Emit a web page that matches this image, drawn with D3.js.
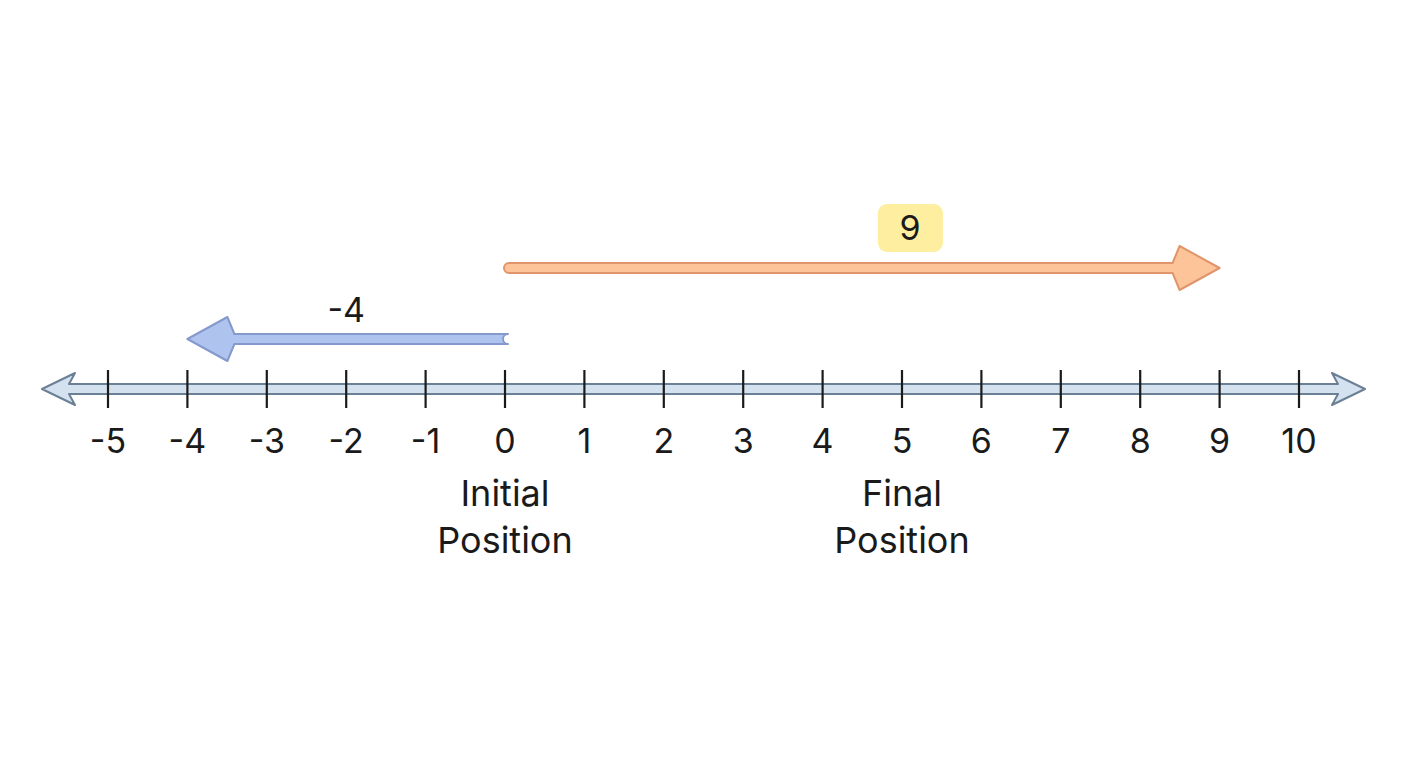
<!DOCTYPE html>
<html><head><meta charset="utf-8">
<script src="https://cdn.jsdelivr.net/npm/d3@7"></script>
<style>body{margin:0;background:#fff}text{font-family:Inter,"Noto Sans",sans-serif;fill:#1a1a1a}</style>
</head><body><svg id="c" width="1408" height="768"></svg>
<script>
const ticks = [-5,-4,-3,-2,-1,0,1,2,3,4,5,6,7,8,9,10];
const moves = [
  {start:0, value:9, label:"9", y:268, fill:"#fdc49a", stroke:"#e0956a", boxed:true, labelX:5.1},
  {start:0, value:-4, label:"-4", y:339, fill:"#aec3ee", stroke:"#8599cc", boxed:false, labelX:-2}
];
const markers = [{value:0, lines:["Initial","Position"]},{value:5, lines:["Final","Position"]}];
const domain = [-5,10];

const svg = d3.select("#c");
const x = d3.scaleLinear().domain(domain).range([108,1299]);
const axisY = 389;

function arrowPath(x0, x1, y, hw, headLen, headHalf, notch){
  const d = Math.sign(x1-x0);
  const back = x1 - d*headLen, nb = back + d*notch;
  return `M${x0},${y-hw} L${nb},${y-hw} L${back},${y-headHalf} L${x1},${y} L${back},${y+headHalf} L${nb},${y+hw} L${x0},${y+hw} A${hw},${hw} 0 0 1 ${x0},${y-hw} Z`;
}
// axis with double arrows
const L = 42, R = 1365, hw=5;
svg.append("path").attr("d",
 `M${L},${axisY} L${L+33},${axisY-16} L${L+27},${axisY-hw} L${R-27},${axisY-hw} L${R-33},${axisY-16} L${R},${axisY} L${R-33},${axisY+16} L${R-27},${axisY+hw} L${L+27},${axisY+hw} L${L+33},${axisY+16} Z`)
 .attr("fill","#d4e2ef").attr("stroke","#6b7f95").attr("stroke-width",2).attr("stroke-linejoin","round");

svg.selectAll(".tk").data(ticks).join("line")
 .attr("x1",d=>x(d)).attr("x2",d=>x(d)).attr("y1",370).attr("y2",408)
 .attr("stroke","#1a1a1a").attr("stroke-width",2.2);
svg.selectAll(".tl").data(ticks).join("text")
 .attr("x",d=>x(d)).attr("y",453).attr("text-anchor","middle").attr("font-size",34).text(d=>d);

moves.forEach(m=>{
  const x0 = x(m.start) + (m.value>0?4:3), x1 = x(m.start+m.value);
  svg.append("path").attr("d", arrowPath(x0,x1,m.y,5,40,22,-7))
   .attr("fill",m.fill).attr("stroke",m.stroke).attr("stroke-width",2).attr("stroke-linejoin","round");
  const lx = x(m.labelX), ly = m.y - (m.boxed?40:29);
  if(m.boxed){
    svg.append("rect").attr("x",lx-32).attr("y",ly-24).attr("width",65).attr("height",48).attr("rx",9).attr("fill","#fdeea0");
  }
  svg.append("text").attr("x",lx).attr("y",ly+12).attr("text-anchor","middle").attr("font-size",34).text(m.label);
});

markers.forEach(mk=>{
  mk.lines.forEach((t,i)=>svg.append("text").attr("x",x(mk.value)).attr("y",506+i*47)
    .attr("text-anchor","middle").attr("font-size",36).text(t));
});
</script></body></html>
